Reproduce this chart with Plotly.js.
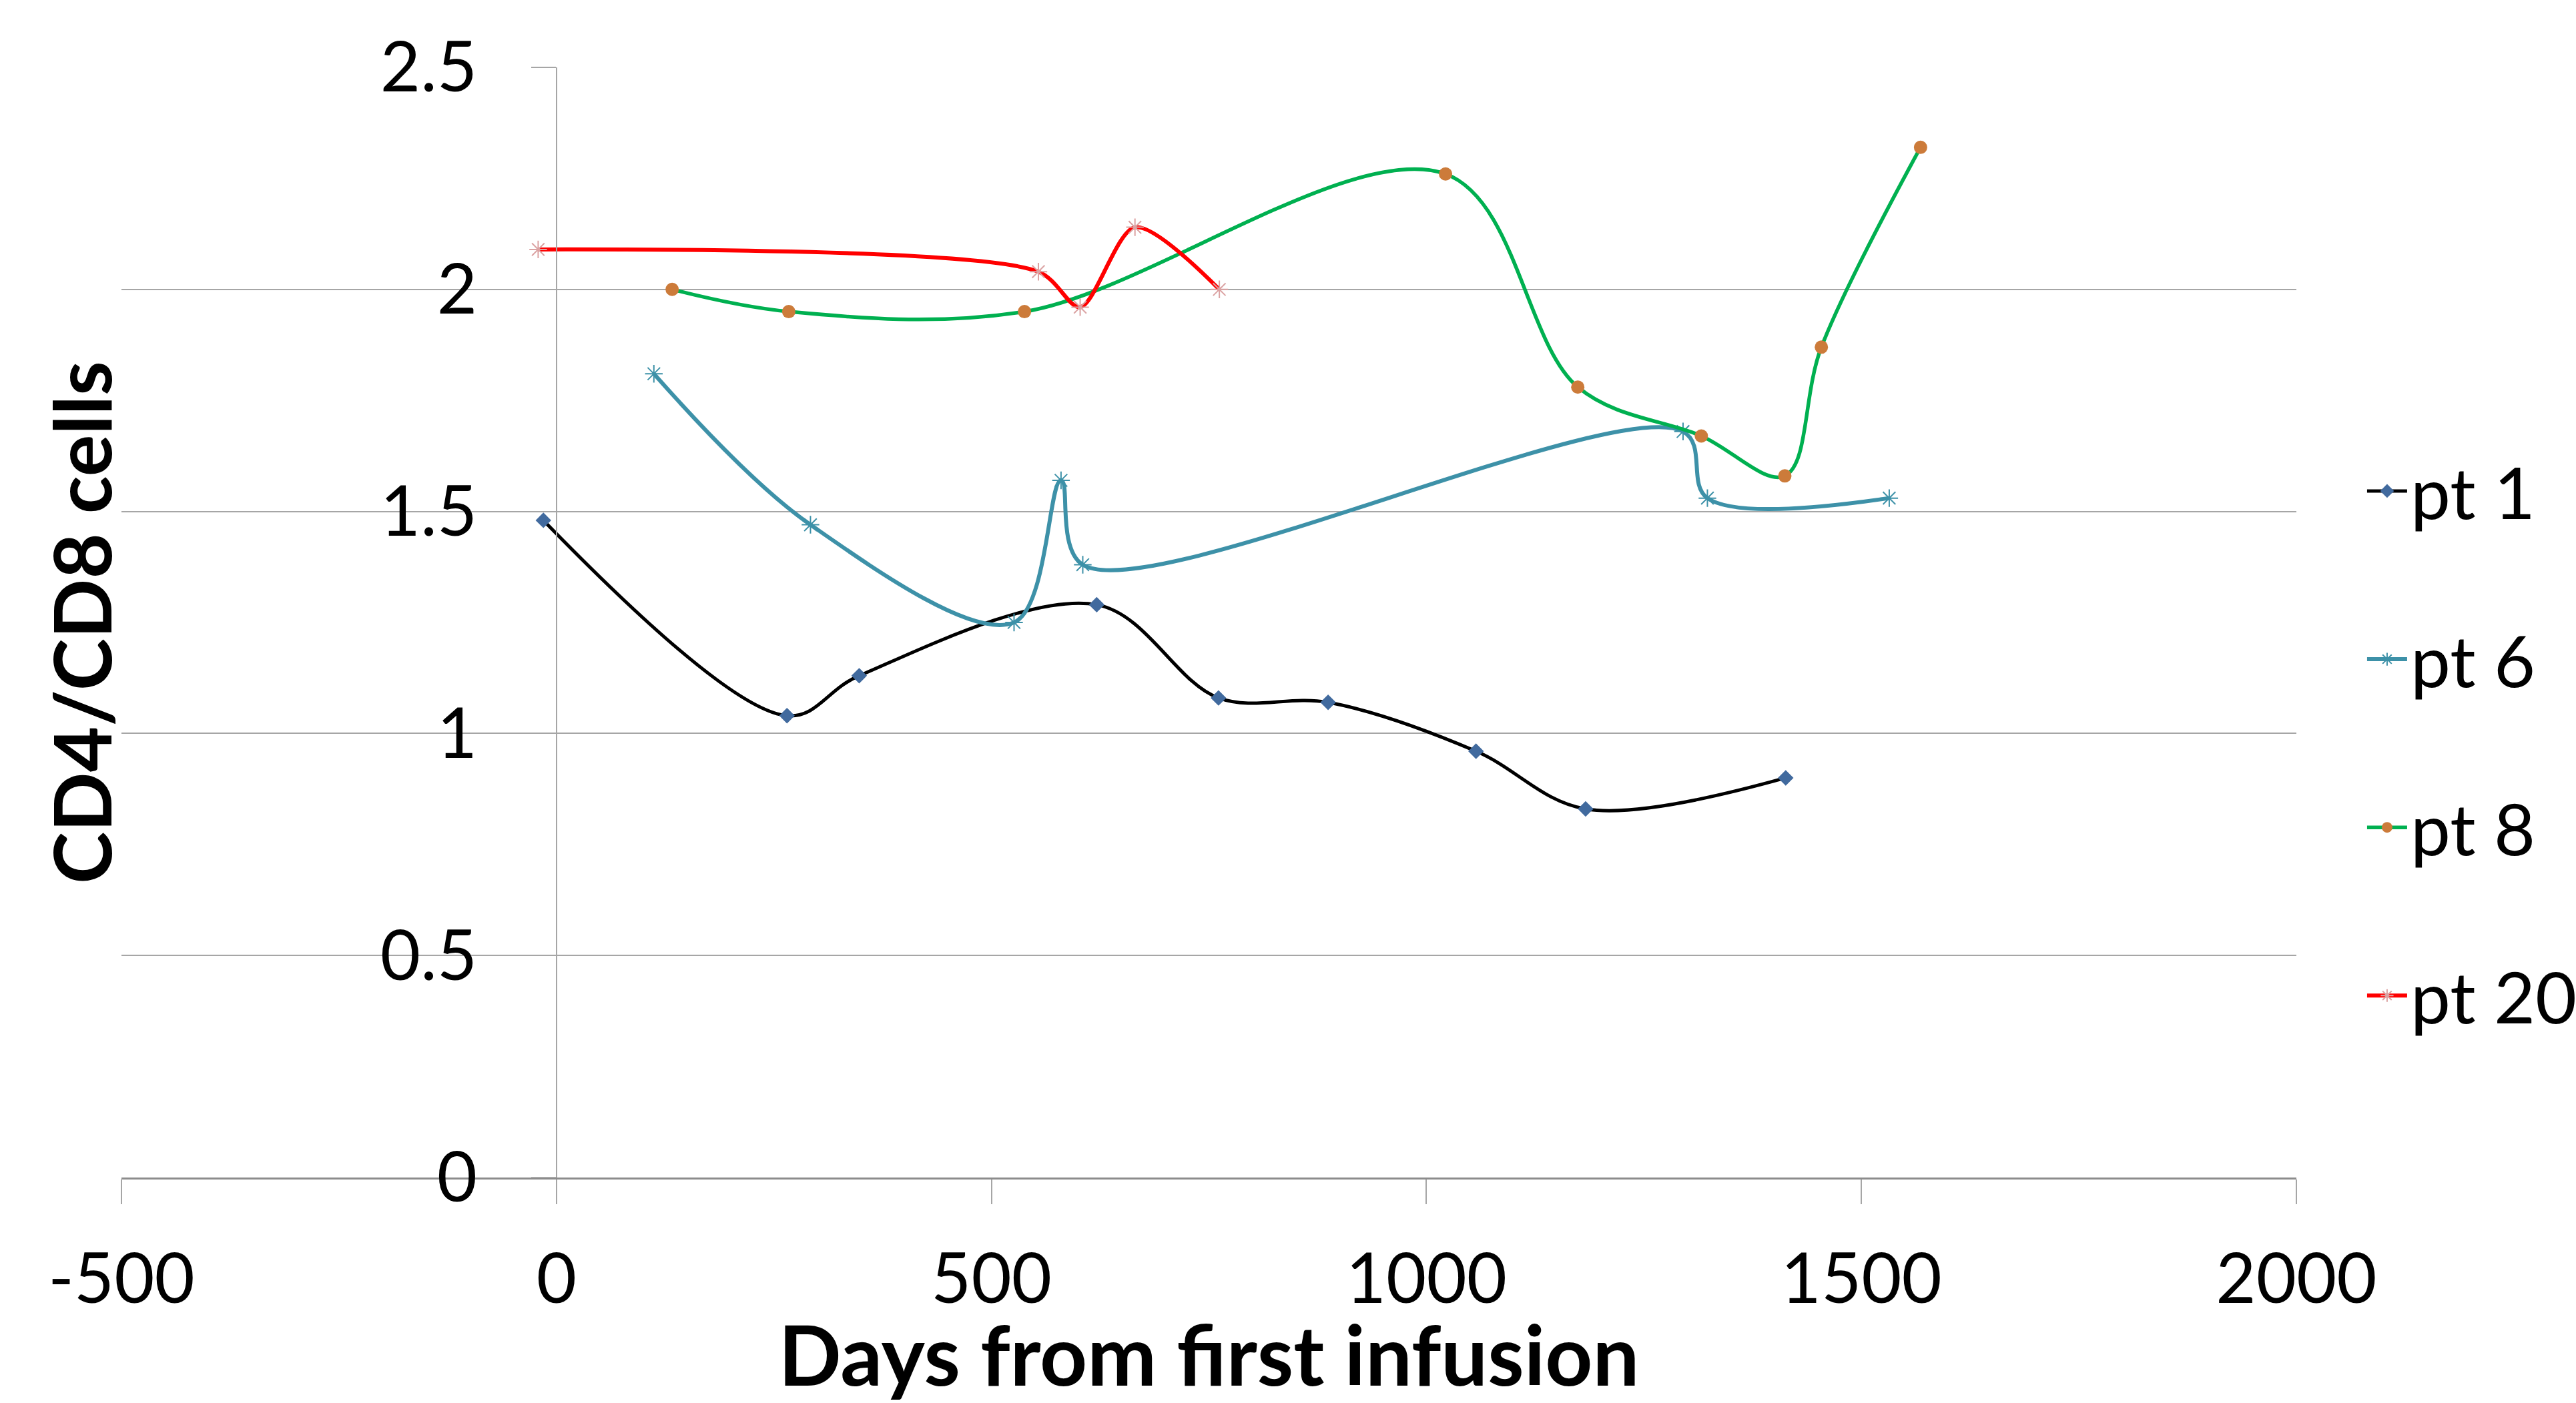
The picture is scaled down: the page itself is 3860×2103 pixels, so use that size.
<!DOCTYPE html>
<html>
<head>
<meta charset="utf-8">
<script src="https://cdn.plot.ly/plotly-3.0.1.min.js"></script>
<style>html,body{margin:0;padding:0;background:#fff;}#chart{width:3860px;height:2103px;}</style>
</head>
<body>
<div id="chart"></div>
<script>
// Data
const pt1Days = [-15, 265, 348, 621, 761, 887, 1057, 1183, 1413];
const pt1Ratio = [1.48, 1.04, 1.13, 1.29, 1.08, 1.07, 0.96, 0.83, 0.90];

const pt6Days = [112, 292, 526, 580, 605, 1295, 1323, 1532];
const pt6Ratio = [1.81, 1.47, 1.25, 1.57, 1.38, 1.68, 1.53, 1.53];

const pt8Days = [133, 267, 538, 1022, 1174, 1316, 1412, 1454, 1568];
const pt8Ratio = [2.00, 1.95, 1.95, 2.26, 1.78, 1.67, 1.58, 1.87, 2.32];

const pt20Days = [-21, 554, 602, 665, 762];
const pt20Ratio = [2.09, 2.04, 1.96, 2.14, 2.00];

const seriesNames = ['pt 1', 'pt 6', 'pt 8', 'pt 20'];
const xTickVals = [-500, 0, 500, 1000, 1500, 2000];
const xTickText = ['-500', '0', '500', '1000', '1500', '2000'];
const yTickVals = [0, 0.5, 1, 1.5, 2, 2.5];
const yTickText = ['0', '0.5', '1', '1.5', '2', '2.5'];

const FONT = 'Lato, "Open Sans", sans-serif';

function series(name, xs, ys, lineColor, lineWidth, smoothing, marker, group) {
  return {
    type: 'scatter', mode: 'lines+markers', name: name,
    x: xs, y: ys, legendgroup: group,
    line: {color: lineColor, width: lineWidth, shape: 'spline', smoothing: smoothing},
    marker: marker, cliponaxis: false
  };
}

const traces = [
  series(seriesNames[0], pt1Days, pt1Ratio, '#000000', 5, 1,
    {symbol: 'diamond', size: 18, color: '#416a9e', line: {width: 0}}, 'g1'),
  series(seriesNames[1], pt6Days, pt6Ratio, '#3d91a8', 6, 1,
    {symbol: 'asterisk-open', size: 22, color: '#3d91a8', line: {width: 2, color: '#3d91a8'}}, 'g2'),
  series(seriesNames[2], pt8Days, pt8Ratio, '#00b050', 5.5, 1,
    {symbol: 'circle', size: 20, color: '#cc7b3a', line: {width: 0}}, 'g3'),
  series(seriesNames[3], pt20Days, pt20Ratio, '#ff0000', 6, 0.8,
    {symbol: 'asterisk-open', size: 22, color: '#dba3a3', line: {width: 2, color: '#dba3a3'}}, 'g4')
];

const layout = {
  width: 3860, height: 2103,
  margin: {l: 182, r: 419, t: 101, b: 338},
  paper_bgcolor: '#ffffff', plot_bgcolor: '#ffffff',
  font: {family: FONT, color: '#000000', size: 104},
  showlegend: true,
  legend: {
    xref: 'container', yref: 'container',
    x: 0.9176, xanchor: 'left', y: 0.6862, yanchor: 'top',
    traceorder: 'grouped', tracegroupgap: 110, itemwidth: 60,
    font: {family: FONT, size: 107, color: '#000000'},
    bgcolor: 'rgba(0,0,0,0)', borderwidth: 0
  },
  xaxis: {
    range: [-500, 2000], tickmode: 'array', tickvals: xTickVals, ticktext: xTickText,
    showgrid: false, zeroline: false,
    showline: true, linecolor: '#8c8c8c', linewidth: 3,
    ticks: 'outside', ticklen: 37, tickwidth: 2, tickcolor: '#a6a6a6',
    ticklabelstandoff: 23,
    tickfont: {family: FONT, size: 104, color: '#000000'},
    automargin: false,
    title: {text: 'Days from first infusion', font: {family: FONT, size: 124, weight: 700, color: '#000000'}, standoff: 30}
  },
  yaxis: {
    range: [0, 2.5], tickmode: 'array', tickvals: yTickVals, ticktext: yTickText,
    anchor: 'free', position: 0.2,
    showgrid: true, gridcolor: '#a6a6a6', gridwidth: 2, zeroline: false,
    showline: true, linecolor: '#a6a6a6', linewidth: 2,
    ticks: 'outside', ticklen: 37, tickwidth: 2, tickcolor: '#a6a6a6',
    ticklabelstandoff: 60,
    tickfont: {family: FONT, size: 104, color: '#000000'},
    automargin: false,
    title: {text: 'CD4/CD8 cells', font: {family: FONT, size: 118, weight: 700, color: '#000000'}, standoff: 362}
  }
};

Plotly.newPlot('chart', traces, layout, {staticPlot: true, displayModeBar: false});
</script>
</body>
</html>
